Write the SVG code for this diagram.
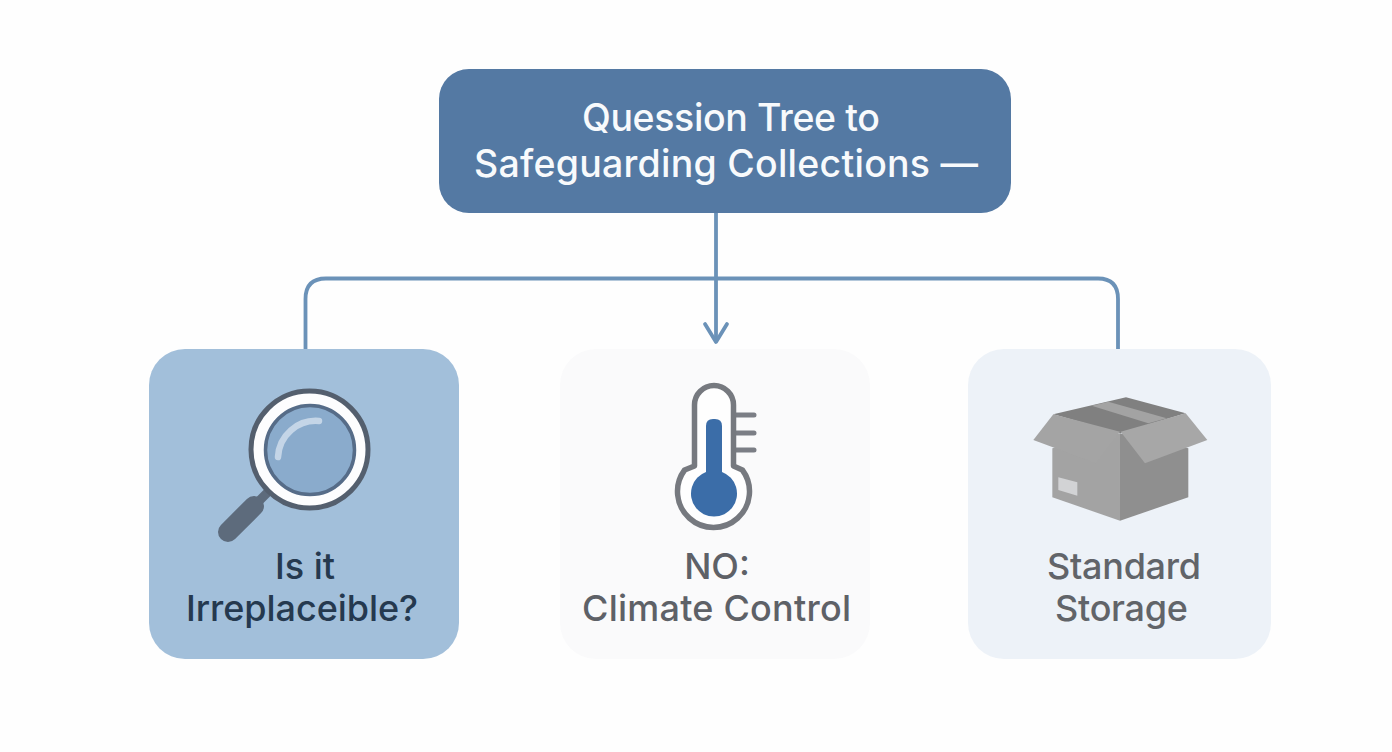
<svg xmlns="http://www.w3.org/2000/svg" width="1392" height="752" viewBox="0 0 1392 752">
<style>
text{font-family:"Inter","Liberation Sans",sans-serif;font-weight:600;text-anchor:middle}
.t{font-size:37.500px;font-weight:500;fill:#f8fafc}
.l{font-size:36px;font-weight:550}
.c{fill:none;stroke:#6b92b8;stroke-width:3.800;stroke-linejoin:round}
</style>
<rect width="1392" height="752" fill="#fefefe"/>
<g id="connectors">
<path class="c" d="M305.500 349V299Q305.500 278.500 326 278.500H1098Q1118 278.500 1118 299V349"/>
<path class="c" d="M716 213V342"/>
<path class="c" d="M705 324L716 342L727 324" stroke-width="4.500" stroke-linecap="round"/>
</g>
<g id="root">
<rect x="439" y="69" width="572" height="144" rx="30" fill="#5479a3"/>
<text class="t" x="731" y="131" textLength="298">Quession Tree to</text>
<text class="t" x="726" y="177" textLength="504">Safeguarding Collections —</text>
</g>
<g id="irreplaceable">
<rect x="149" y="349" width="310" height="310" rx="36" fill="#a2bfda"/>
<path d="M268 492L258 502" stroke="#5d6b7c" stroke-width="9" fill="none"/>
<path d="M254 506L228 532" stroke="#5d6b7c" stroke-width="20" stroke-linecap="round" fill="none"/>
<circle cx="309.500" cy="449.500" r="58.500" fill="#fdfdfe" stroke="#545f6e" stroke-width="5"/>
<circle cx="310" cy="450" r="44.500" fill="#8aabcc" stroke="#566c88" stroke-width="3.500"/>
<path d="M278 457A38 38 0 0 1 319 421" fill="none" stroke="#c4d5e7" stroke-width="6.500" stroke-linecap="round"/>
<text class="l" x="305" y="579" fill="#25394f">Is it</text>
<text class="l" x="302" y="621" fill="#25394f" textLength="232">Irreplaceible?</text>
</g>
<g id="climate">
<rect x="560" y="349" width="310" height="310" rx="36" fill="#fafafb"/>
<path d="M736 415H754M736 433H754M736 450H754" stroke="#7b7e85" stroke-width="5" stroke-linecap="round" fill="none"/>
<path d="M694.500 466V405A19.500 19.500 0 0 1 733.500 405V466L742.400 470A36 36 0 1 1 684.600 470Z" fill="#fefefe" stroke="#76797f" stroke-width="5.500" stroke-linejoin="round"/>
<path d="M706 472V426Q706 419 713 419H715Q722 419 722 426V472A23 23 0 1 1 706 472Z" fill="#3b6da8"/>
<text class="l" x="717" y="579" fill="#5e6167">NO:</text>
<text class="l" x="716.500" y="621" fill="#5e6167" textLength="269">Climate Control</text>
</g>
<g id="storage">
<rect x="968" y="349" width="303" height="310" rx="36" fill="#edf2f8"/>
<g transform="translate(1020 385) scale(.3333)">
<path d="M100 88L318 37L497 85L300 145Z" fill="#808080"/>
<path d="M215 62L265 50L440 100L385 115Z" fill="#a3a3a3"/>
<path d="M97 190L300 145V407L97 337Z" fill="#a3a3a3"/>
<path d="M300 145L505 190V337L300 407Z" fill="#8f8f8f"/>
<path d="M115 277L172 292V332L115 315Z" fill="#d2d3d5"/>
<path d="M100 88L300 140L228 235L40 165Z" fill="#a4a4a4"/>
<path d="M302 140L497 85L562 165L375 235Z" fill="#a7a7a7"/>
</g>
<text class="l" x="1124" y="579" fill="#616469" textLength="154">Standard</text>
<text class="l" x="1121.500" y="621" fill="#616469" textLength="133">Storage</text>
</g>
</svg>
